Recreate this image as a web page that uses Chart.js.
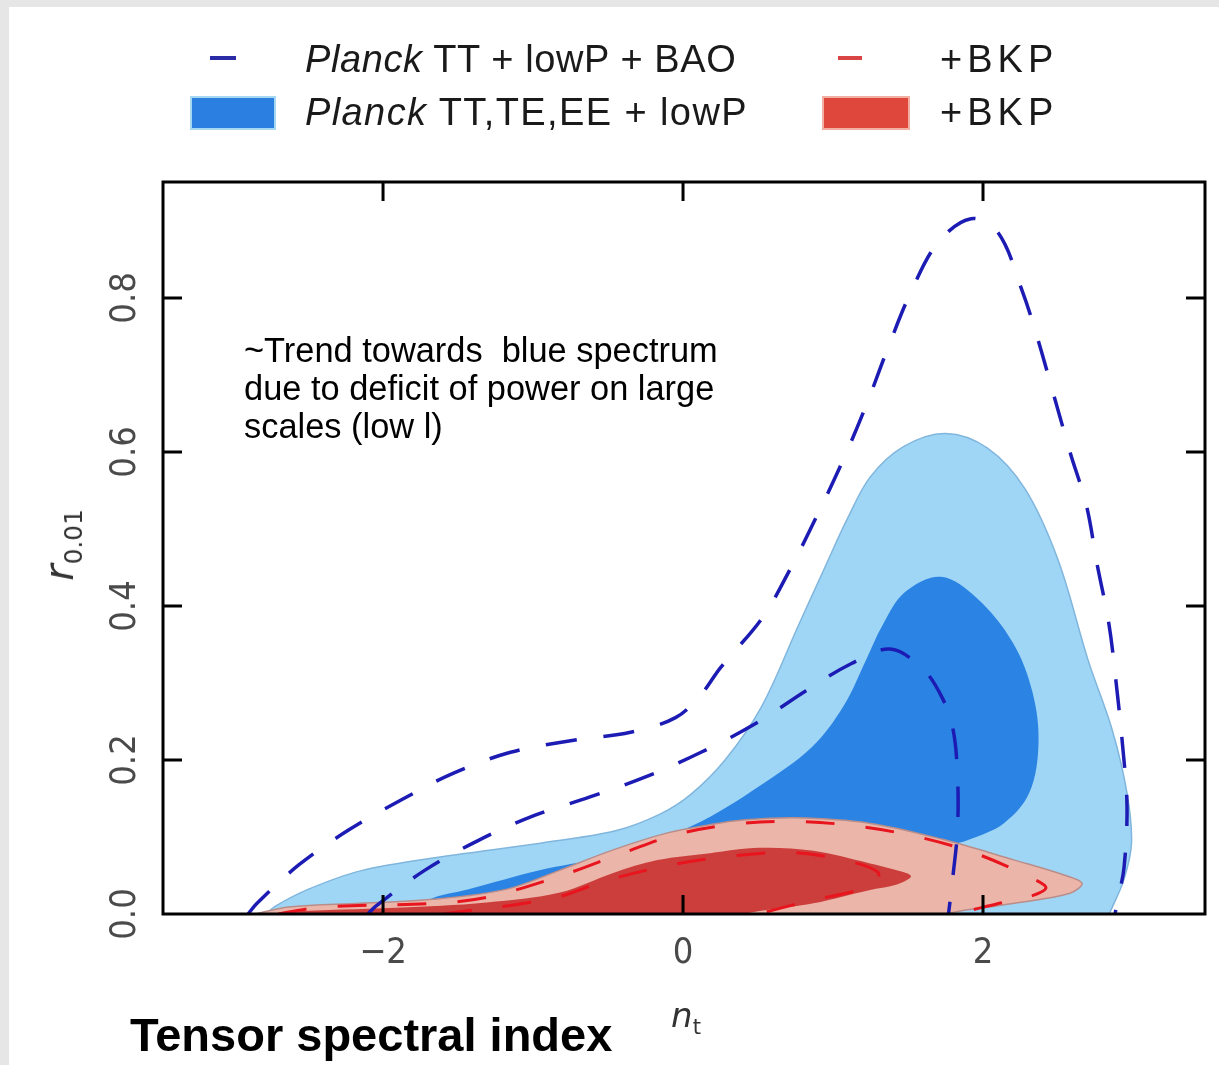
<!DOCTYPE html>
<html>
<head>
    <title>Tensor spectral index</title>
    <script src="https://cdn.jsdelivr.net/npm/chart.js"></script>
    <style>
        body {
            margin: 0;
            background: #fff;
        }
        .page {
            position: relative;
            width: 1219px;
            height: 1065px;
            background: #fff;
            overflow: hidden;
            font-family: "Liberation Sans", Arial, sans-serif;
        }
        .edge-top {
            position: absolute; left: 0; top: 0; width: 1219px; height: 7px; background: #e6e6e6;
        }
        .edge-left {
            position: absolute; left: 0; top: 0; width: 9px; height: 1065px; background: #e6e6e6;
        }
        #contourChart {
            position: absolute; left: 0; top: 0;
        }
        .txt {
            position: absolute;
            white-space: pre;
            color: #1a1a1a;
        }
        .legend-text {
            font-size: 38px;
            line-height: 38px;
            letter-spacing: 1px;
        }
        .swatch {
            position: absolute;
        }
        .note {
            font-size: 34.4px;
            line-height: 38px;
            color: #000;
        }
        .caption {
            font-size: 47px;
            line-height: 47px;
            font-weight: bold;
            color: #000;
        }
        .axis-title {
            position: absolute;
            font-family: "DejaVu Sans", sans-serif;
            color: #333;
            white-space: nowrap;
        }
        .axis-title sub {
            font-size: 62%;
        }
    </style>
</head>
<body>
<div class="page">
    <canvas id="contourChart" width="1219" height="1065"></canvas>
    <div class="edge-top"></div>
    <div class="edge-left"></div>

    <!-- legend -->
    <div class="swatch" style="left:210px; top:56px; width:26px; height:4px; background:#2b2ba6;"></div>
    <div class="txt legend-text" style="left:305px; top:40px; letter-spacing:0.6px;"><i>Planck</i> TT + lowP + BAO</div>
    <div class="swatch" style="left:838px; top:56px; width:24px; height:4px; background:#d94444;"></div>
    <div class="txt legend-text" style="left:940px; top:40px; letter-spacing:5px;">+BKP</div>

    <div class="swatch" style="left:190px; top:96px; width:82px; height:30px; background:#2a7fe0; border:2px solid #a6d8f4;"></div>
    <div class="txt legend-text" style="left:305px; top:93px; letter-spacing:1.4px;"><i>Planck</i> TT,TE,EE + lowP</div>
    <div class="swatch" style="left:822px; top:96px; width:84px; height:30px; background:#e0473c; border:2px solid #f2b0a2;"></div>
    <div class="txt legend-text" style="left:940px; top:93px; letter-spacing:5px;">+BKP</div>

    <div class="txt note" style="left:244px; top:331px;">~Trend towards  blue spectrum
due to deficit of power on large
scales (low l)</div>

    <div class="axis-title" style="left:62px; top:545px; font-size:40px; transform: translate(-50%, -50%) rotate(-90deg);"><i>r</i><sub>0.01</sub></div>
    <div class="axis-title" style="left:686px; top:1017px; font-size:34px; transform: translate(-50%, -50%);"><i>n</i><sub>t</sub></div>

    <div class="txt caption" style="left:130px; top:1011px;">Tensor spectral index</div>
</div>

<script>
    // axis ticks
    const xTicks = [-2, 0, 2];
    const xTickLabels = ['\u22122', '0', '2'];
    const yTicks = [0, 0.2, 0.4, 0.6, 0.8];
    const yTickLabels = ['0.0', '0.2', '0.4', '0.6', '0.8'];

    // contour outlines as [n_t, r_0.01] pairs
    // Planck TT,TE,EE+lowP, 95% region
    const tteeOuter = [
        [-2.78, 0], [-2.72, 0.01], [-2.5, 0.032], [-2.15, 0.056], [-1.62, 0.074], [-0.95, 0.092],
        [-0.45, 0.108], [-0.15, 0.13], [0.05, 0.155], [0.28, 0.2], [0.52, 0.268], [0.77, 0.375],
        [0.95, 0.452], [1.1, 0.515], [1.25, 0.568], [1.47, 0.607], [1.75, 0.624], [2.03, 0.605],
        [2.28, 0.552], [2.5, 0.46], [2.7, 0.33], [2.86, 0.24], [2.96, 0.157], [2.99, 0.092],
        [2.94, 0.045], [2.86, 0.008], [2.84, 0]
    ];
    // Planck TT,TE,EE+lowP, 68% region
    const tteeInner = [
        [-1.78, 0], [-1.7, 0.018], [-1.43, 0.032], [-0.95, 0.057], [-0.55, 0.073], [-0.15, 0.098],
        [0.14, 0.122], [0.5, 0.165], [0.86, 0.217], [1.07, 0.27], [1.22, 0.33], [1.33, 0.375],
        [1.48, 0.418], [1.72, 0.438], [1.96, 0.41], [2.2, 0.352], [2.33, 0.288], [2.37, 0.222],
        [2.31, 0.158], [2.14, 0.118], [1.9, 0.096], [1.7, 0.082], [1.5, 0.03], [1.45, 0]
    ];
    // +BKP filled, 95%
    const bkpOuter = [
        [-2.85, 0], [-2.63, 0.009], [-2.15, 0.014], [-1.67, 0.019], [-1.18, 0.032], [-0.82, 0.057],
        [-0.47, 0.083], [-0.11, 0.105], [0.18, 0.116], [0.4, 0.122], [0.75, 0.125], [1.24, 0.118],
        [1.73, 0.097], [2.21, 0.07], [2.55, 0.05], [2.66, 0.04], [2.58, 0.027], [2.21, 0.014],
        [1.85, 0.004], [1.75, 0]
    ];
    // +BKP filled, 68%
    const bkpInner = [
        [-2.7, 0], [-2.63, 0.003], [-1.91, 0.008], [-1.31, 0.015], [-0.82, 0.028], [-0.47, 0.053],
        [-0.17, 0.07], [0.18, 0.079], [0.51, 0.086], [0.87, 0.082], [1.24, 0.066], [1.42, 0.057],
        [1.52, 0.049], [1.42, 0.038], [1.24, 0.031], [0.87, 0.014], [0.51, 0.004], [0.4, 0]
    ];
    // Planck TT+lowP+BAO, dashed
    const baoOuter = [
        [-2.9, 0], [-2.84, 0.014], [-2.56, 0.064], [-2.23, 0.109], [-1.88, 0.148], [-1.53, 0.183],
        [-1.15, 0.21], [-0.75, 0.225], [-0.35, 0.236], [-0.05, 0.255], [0.12, 0.285], [0.25, 0.32],
        [0.53, 0.385], [0.72, 0.45], [0.9, 0.52], [1.08, 0.595], [1.23, 0.665], [1.37, 0.737],
        [1.52, 0.808], [1.7, 0.872], [1.92, 0.903], [2.1, 0.885], [2.26, 0.81], [2.36, 0.75],
        [2.47, 0.675], [2.58, 0.6], [2.69, 0.53], [2.76, 0.455], [2.84, 0.376], [2.89, 0.296],
        [2.93, 0.22], [2.96, 0.14], [2.94, 0.06], [2.9, 0.02], [2.88, 0]
    ];
    const baoInner = [
        [-2.1, 0], [-2.05, 0.01], [-1.72, 0.057], [-1.36, 0.096], [-0.99, 0.128], [-0.62, 0.152],
        [-0.25, 0.178], [0.12, 0.21], [0.49, 0.248], [0.82, 0.29], [1.12, 0.325], [1.38, 0.344],
        [1.6, 0.318], [1.73, 0.28], [1.8, 0.24], [1.83, 0.18], [1.83, 0.11], [1.8, 0.05], [1.77, 0]
    ];
    // Planck TT+lowP+BAO+BKP, dashed
    const baoBkpOuter = [
        [-2.7, 0], [-2.4, 0.009], [-1.65, 0.014], [-1.3, 0.022], [-0.81, 0.05], [-0.39, 0.08],
        [-0.03, 0.104], [0.36, 0.117], [0.78, 0.12], [1.16, 0.114], [1.57, 0.1], [1.96, 0.078],
        [2.31, 0.048], [2.42, 0.034], [2.3, 0.022], [2.09, 0.013], [1.9, 0.004], [1.8, 0]
    ];
    const baoBkpInner = [
        [-1.6, 0], [-0.88, 0.02], [-0.5, 0.044], [-0.1, 0.063], [0.27, 0.074], [0.71, 0.08],
        [1.07, 0.07], [1.3, 0.054], [1.26, 0.037], [0.82, 0.016], [0.6, 0.005], [0.5, 0]
    ];

    const TICK_LEN = 19;
    const tickFont = {
        family: "'Liberation Sans Narrow', 'DejaVu Sans Condensed', 'Liberation Sans', sans-serif",
        size: 36
    };

    function toPoints(pairs) {
        return pairs.map(p => ({ x: p[0], y: p[1] }));
    }

    function filledRegion(pairs, color, border, borderWidth, order) {
        return {
            data: toPoints(pairs),
            showLine: true,
            fill: 'shape',
            backgroundColor: color,
            borderColor: border,
            borderWidth: borderWidth,
            tension: 0.35,
            pointRadius: 0,
            order: order
        };
    }

    function dashedContour(pairs, color, width, dash, order) {
        return {
            data: toPoints(pairs),
            showLine: true,
            fill: false,
            borderColor: color,
            borderWidth: width,
            borderDash: dash,
            tension: 0.35,
            pointRadius: 0,
            order: order
        };
    }

    // box round the plot with inward ticks on all four sides
    const frameTicks = {
        id: 'frameTicks',
        afterDraw(chart) {
            const { ctx, chartArea: a, scales: { x, y } } = chart;
            ctx.save();
            ctx.strokeStyle = '#000';
            ctx.lineWidth = 3;
            ctx.strokeRect(a.left, a.top, a.right - a.left, a.bottom - a.top);
            ctx.beginPath();
            x.ticks.forEach(t => {
                const px = x.getPixelForValue(t.value);
                ctx.moveTo(px, a.bottom); ctx.lineTo(px, a.bottom - TICK_LEN);
                ctx.moveTo(px, a.top); ctx.lineTo(px, a.top + TICK_LEN);
            });
            y.ticks.forEach(t => {
                if (t.value === 0) return;
                const py = y.getPixelForValue(t.value);
                ctx.moveTo(a.left, py); ctx.lineTo(a.left + TICK_LEN, py);
                ctx.moveTo(a.right, py); ctx.lineTo(a.right - TICK_LEN, py);
            });
            ctx.stroke();
            ctx.restore();
        }
    };

    const ctx = document.getElementById('contourChart').getContext('2d');
    new Chart(ctx, {
        type: 'scatter',
        data: {
            datasets: [
                filledRegion(tteeOuter, '#a0d6f5', '#80b6dd', 1.5, 8),
                filledRegion(tteeInner, '#2b84e3', 'rgba(0,0,0,0)', 0, 7),
                filledRegion(bkpOuter, '#ebb6a9', '#b98d8a', 1.5, 6),
                filledRegion(bkpInner, '#cc3e3b', 'rgba(0,0,0,0)', 0, 5),
                dashedContour(baoBkpOuter, '#e8141e', 3, [29, 31], 4),
                dashedContour(baoBkpInner, '#e8141e', 3, [29, 31], 3),
                dashedContour(baoOuter, '#1c1cb4', 3.5, [31, 27], 2),
                dashedContour(baoInner, '#1c1cb4', 3.5, [31, 27], 1)
            ]
        },
        options: {
            responsive: false,
            animation: false,
            layout: {
                padding: { left: 0, top: 182, right: 14, bottom: 0 }
            },
            plugins: {
                legend: { display: false },
                tooltip: { enabled: false }
            },
            scales: {
                x: {
                    type: 'linear',
                    min: -3.467,
                    max: 3.48,
                    grid: { display: false },
                    border: { display: false },
                    afterBuildTicks: s => { s.ticks = xTicks.map(v => ({ value: v })); },
                    afterFit: s => { s.height = 151; },
                    ticks: {
                        font: tickFont,
                        color: '#4a4a4a',
                        padding: 10,
                        maxRotation: 0,
                        autoSkip: false,
                        callback: v => xTickLabels[xTicks.indexOf(v)]
                    }
                },
                y: {
                    type: 'linear',
                    min: 0,
                    max: 0.9506,
                    grid: { display: false },
                    border: { display: false },
                    afterBuildTicks: s => { s.ticks = yTicks.map(v => ({ value: v })); },
                    afterFit: s => { s.width = 163; },
                    ticks: {
                        font: tickFont,
                        color: '#4a4a4a',
                        padding: 4,
                        minRotation: 90,
                        maxRotation: 90,
                        crossAlign: 'center',
                        autoSkip: false,
                        callback: v => yTickLabels[yTicks.indexOf(v)]
                    }
                }
            }
        },
        plugins: [frameTicks]
    });
</script>
</body>
</html>
